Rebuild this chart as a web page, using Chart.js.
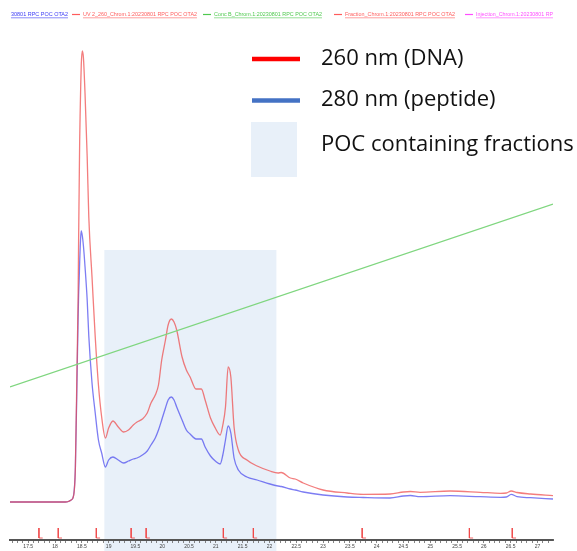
<!DOCTYPE html>
<html>
<head>
<meta charset="utf-8">
<script src="https://cdn.jsdelivr.net/npm/chart.js@4.4.0/dist/chart.umd.min.js"></script>
<style>
  html, body { margin: 0; padding: 0; background: #fff; }
  canvas { display: block; }
</style>
</head>
<body>
<canvas id="chrom" width="577" height="551"></canvas>
<script>
// Retention time (min) and UV absorbance (mAU)
const time = [17.16, 18.19, 18.25, 18.30, 18.34, 18.38, 18.41, 18.43, 18.44, 18.45,
  18.46, 18.47, 18.48, 18.49, 18.51, 18.53, 18.56, 18.60, 18.63,
  18.69, 18.75, 18.81, 18.87, 18.94, 19.00, 19.08, 19.18, 19.28, 19.37,
  19.46, 19.53, 19.63, 19.72, 19.79, 19.87, 19.93, 19.99, 20.06, 20.11,
  20.17, 20.22, 20.27, 20.37, 20.45, 20.52, 20.63, 20.73, 20.80, 20.90,
  20.99, 21.08, 21.13, 21.18, 21.23, 21.28, 21.34, 21.42, 21.58, 21.77,
  22.01, 22.16, 22.22, 22.39, 22.48, 22.63, 23.00, 23.45, 23.75, 24.25,
  24.50, 24.63, 24.81, 25.37, 25.93, 26.31, 26.42, 26.51, 26.62, 26.87, 27.29];
const uv260 = [0, 0, 0.5, 2, 5, 35, 135, 202, 262, 312,
  362, 392, 418, 438, 451, 444, 408, 345, 285,
  225, 165, 117, 85, 64, 74, 81, 75, 70, 72,
  77, 80, 83, 89, 99, 107, 117, 142, 162, 177,
  183, 180, 172, 145, 132, 125, 113, 113, 102, 84,
  74, 67, 77, 95, 135, 125, 75, 52, 42, 36,
  31, 29, 29.5, 24, 23, 19, 12, 9, 7.7, 8,
  10, 10.5, 9.7, 11, 9.7, 8.7, 9, 11, 9.5, 8, 6.3];
const uv280 = [0, 0, 0.5, 2, 5, 35, 122, 182, 207, 222,
  240, 255, 266, 271, 266, 256, 235, 202, 166,
  119, 89, 62, 49, 35, 42, 45, 42, 39, 41,
  43, 44, 47, 51, 57, 64, 72, 82, 94, 102,
  105, 102, 95, 82, 72, 68, 63, 63, 55, 46,
  41, 38, 47, 62, 76, 69, 44, 32, 25, 22,
  18, 16, 15.5, 13, 12, 10, 7, 5, 4.5, 4,
  6, 6.5, 5.3, 6.3, 5.3, 4.7, 5, 7.7, 5.3, 4.3, 3];

// Gradient (Conc B), same scale
const concBTime = [17.16, 27.29];
const concB = [115, 298];

// Fraction marks
const fractionTimes = [17.70, 18.06, 18.77, 19.42, 19.70, 21.14, 21.70, 23.73, 25.73, 26.53];

// POC containing fractions window
const pocStart = 18.92;
const pocEnd = 22.13;
const pocTop = 252;

const tickLabels = ['17.5', '18', '18.5', '19', '19.5', '20', '20.5', '21', '21.5', '22',
  '22.5', '23', '23.5', '24', '24.5', '25', '25.5', '26', '26.5', '27'];

const headerItems = [
  { text: '30801 RPC POC OTA2', x: 11, w: 57, color: '#3b3bf5', line: false },
  { text: 'UV 2_260_Chrom.1:20230801 RPC POC OTA2', x: 83, w: 114, color: '#ff5c5c', line: true },
  { text: 'Conc B_Chrom.1:20230801 RPC POC OTA2', x: 214, w: 108, color: '#4fc94f', line: true },
  { text: 'Fraction_Chrom.1:20230801 RPC POC OTA2', x: 345, w: 110, color: '#ff5c5c', line: true },
  { text: 'Injection_Chrom.1:20230801 RP', x: 476, w: 77, color: '#ff4dff', line: true }
];

const pts = (xs, ys) => xs.map((x, i) => ({ x: x, y: ys[i] }));

// fraction ticks: vertical stroke with a small foot, broken by nulls
const fractionPts = [];
fractionTimes.forEach(f => {
  fractionPts.push({ x: f, y: -26 }, { x: f, y: -36 }, { x: f + 0.07, y: -36 }, { x: f, y: null });
});

const backdrop = {
  id: 'backdrop',
  beforeDraw(chart) {
    const { ctx, scales: { x, y } } = chart;
    ctx.save();
    ctx.fillStyle = '#fff';
    ctx.fillRect(0, 0, chart.width, chart.height);
    const x0 = x.getPixelForValue(pocStart);
    const x1 = x.getPixelForValue(pocEnd);
    const y0 = y.getPixelForValue(pocTop);
    ctx.fillStyle = '#e8f0f9';
    ctx.fillRect(x0, y0, x1 - x0, chart.height - y0);
    ctx.restore();
  }
};

const overlay = {
  id: 'overlay',
  afterDraw(chart) {
    const ctx = chart.ctx;
    ctx.save();
    // header row
    ctx.font = '6px "Liberation Sans", Arial, sans-serif';
    ctx.textBaseline = 'middle';
    headerItems.forEach(h => {
      ctx.fillStyle = h.color;
      ctx.strokeStyle = h.color;
      if (h.line) {
        ctx.lineWidth = 1.2;
        ctx.beginPath();
        ctx.moveTo(h.x - 11, 14.5);
        ctx.lineTo(h.x - 3, 14.5);
        ctx.stroke();
      }
      ctx.fillText(h.text, h.x, 14.5, h.w);
      const w = Math.min(ctx.measureText(h.text).width, h.w);
      ctx.lineWidth = 0.6;
      ctx.beginPath();
      ctx.moveTo(h.x, 17.8);
      ctx.lineTo(h.x + w, 17.8);
      ctx.stroke();
    });

    // key
    ctx.lineWidth = 4.5;
    ctx.strokeStyle = '#ff0000';
    ctx.beginPath(); ctx.moveTo(252, 59); ctx.lineTo(300, 59); ctx.stroke();
    ctx.strokeStyle = '#4472c4';
    ctx.beginPath(); ctx.moveTo(252, 100.5); ctx.lineTo(300, 100.5); ctx.stroke();
    ctx.fillStyle = '#e8f0f9';
    ctx.fillRect(251, 122, 46, 55);

    ctx.fillStyle = '#111';
    ctx.font = '22px "Open Sans", sans-serif';
    ctx.textBaseline = 'alphabetic';
    ctx.fillText('260 nm (DNA)', 321, 65);
    ctx.fillText('280 nm (peptide)', 321, 106);
    ctx.fillText('POC containing fractions', 321, 151);
    ctx.restore();
  }
};

new Chart(document.getElementById('chrom'), {
  type: 'line',
  data: {
    datasets: [
      { label: 'Conc B', data: pts(concBTime, concB), borderColor: '#7fd67f', borderWidth: 1.2, pointRadius: 0, tension: 0 },
      { label: 'UV 2_260', data: pts(time, uv260), borderColor: 'rgba(238,70,70,0.7)', borderWidth: 1.3, pointRadius: 0, cubicInterpolationMode: 'monotone' },
      { label: 'UV 1_280', data: pts(time, uv280), borderColor: 'rgba(70,70,238,0.7)', borderWidth: 1.3, pointRadius: 0, cubicInterpolationMode: 'monotone' },
      { label: 'Fraction', data: fractionPts, borderColor: 'rgba(240,70,70,0.85)', borderWidth: 1, pointRadius: 0, tension: 0, spanGaps: false }
    ]
  },
  options: {
    responsive: false,
    animation: false,
    devicePixelRatio: 1,
    layout: { padding: { left: 10, right: 24, top: 0, bottom: 0 } },
    plugins: { legend: { display: false }, tooltip: { enabled: false } },
    scales: {
      x: {
        type: 'linear',
        min: 17.16,
        max: 27.29,
        afterBuildTicks(scale) {
          const ticks = [];
          for (let v = 172; v <= 272; v++) ticks.push({ value: v / 10 });
          scale.ticks = ticks;
        },
        afterFit(scale) { scale.height = 11; },
        grid: { drawOnChartArea: false, drawTicks: true, tickLength: 3, color: '#666', lineWidth: 0.8 },
        border: { display: true, color: '#555', width: 2 },
        ticks: {
          autoSkip: false,
          maxRotation: 0,
          padding: 1,
          color: '#444',
          font: { size: 5, family: '"Liberation Sans", Arial, sans-serif' },
          callback(value) {
            const s = String(Math.round(value * 10) / 10);
            return tickLabels.includes(s) ? s : '';
          }
        }
      },
      y: { display: false, min: -38, max: 502 }
    }
  },
  plugins: [backdrop, overlay]
});
</script>
</body>
</html>
